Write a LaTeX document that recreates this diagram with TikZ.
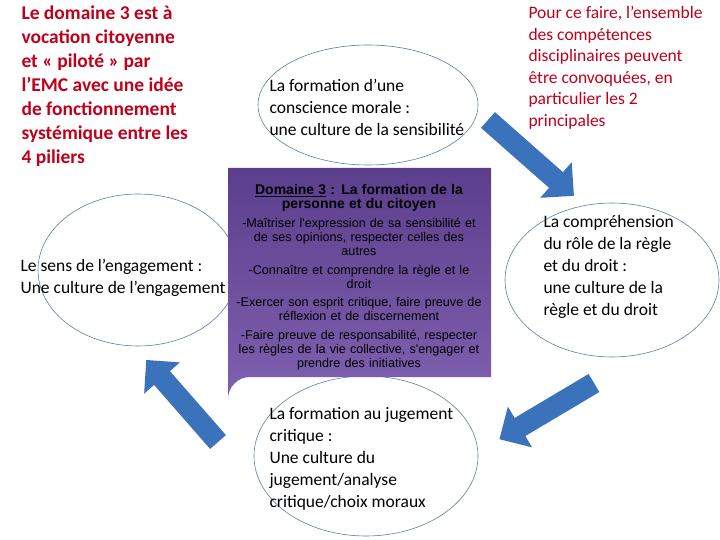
\documentclass[tikz,border=0pt]{standalone}
\usepackage{fontspec}
\setmainfont{Carlito}
\newfontfamily\arialf{Liberation Sans}
\usetikzlibrary{arrows.meta}
\definecolor{myred}{HTML}{C0001A}
\definecolor{eline}{HTML}{5A7FA0}
\definecolor{arrowblue}{HTML}{3A72BC}
\definecolor{purpA}{HTML}{5C3F8C}
\definecolor{purpB}{HTML}{8060B0}
\tikzset{
  etext/.style={align=left, font=\fontsize{17.5}{22}\selectfont, anchor=west},
  bigarrow/.style={line width=21pt, arrowblue, -{Triangle[width=46pt,length=24pt]}, shorten >=-24pt},
}
\begin{document}
\begin{tikzpicture}[x=1pt,y=-1pt]
\useasboundingbox (0,0) rectangle (720,540);
% ellipses
\draw[eline, line width=0.6pt] (368,105) ellipse [x radius=110, y radius=60];
\draw[eline, line width=0.6pt] (138,270) ellipse [x radius=100, y radius=76];
\draw[eline, line width=0.6pt] (612,280) ellipse [x radius=107, y radius=77];
\draw[eline, line width=0.6pt] (366,456) ellipse [x radius=112, y radius=80];
% center box
\shade[top color=purpA, bottom color=purpB]
  (228,168) -- (491,168) -- (491,377) -- (250,377) arc[start angle=270, end angle=180, radius=22] -- cycle;
\node (box) at (359,277) [align=center, text width=258pt, font=\arialf\fontsize{12.6}{13.8}\selectfont] {%
  {\fontsize{14}{17}\selectfont\bfseries \underline{Domaine 3} : La formation de la\\ personne et du citoyen}\\[6pt]
  -Maîtriser l'expression de sa sensibilité et\\ de ses opinions, respecter celles des\\ autres\\[5pt]
  -Connaître et comprendre la règle et le\\ droit\\[5pt]
  -Exercer son esprit critique, faire preuve de\\ réflexion et de discernement\\[5pt]
  -Faire preuve de responsabilité, respecter\\ les règles de la vie collective, s'engager et\\ prendre des initiatives};
% ellipse texts
\node[etext] (t1) at (266,107) {La formation d’une\\ conscience morale :\\ une culture de la sensibilité};
\node[etext] (t2) at (17,278) {Le sens de l’engagement :\\ Une culture de l’engagement};
\node[etext] (t3) at (540,267) {La compréhension\\ du rôle de la règle\\ et du droit :\\ une culture de la\\ règle et du droit};
\node[etext] (t4) at (266,459) {La formation au jugement\\ critique :\\ Une culture du\\ jugement/analyse\\ critique/choix moraux};
% corner texts
\node[align=left, anchor=north west, text=myred, font=\bfseries\fontsize{19.5}{24}\selectfont] (tl) at (18,2)
 {Le domaine 3 est à\\ vocation citoyenne\\ et « piloté » par\\ l’EMC avec une idée\\ de fonctionnement\\ systémique entre les\\ 4 piliers};
\node[align=left, anchor=north west, text=myred, font=\fontsize{17.5}{21.5}\selectfont] (tr) at (525,3)
 {Pour ce faire, l’ensemble\\ des compétences\\ disciplinaires peuvent\\ être convoquées, en\\ particulier les 2\\ principales};
% arrows
\coordinate (a1s) at (488,120); \coordinate (a1e) at (556,180);
\coordinate (a2s) at (594,383); \coordinate (a2e) at (520,427);
\coordinate (a3s) at (218,442); \coordinate (a3e) at (162,378);
\draw[bigarrow] (a1s) -- (a1e);
\draw[bigarrow] (a2s) -- (a2e);
\draw[bigarrow] (a3s) -- (a3e);
\end{tikzpicture}
\end{document}
